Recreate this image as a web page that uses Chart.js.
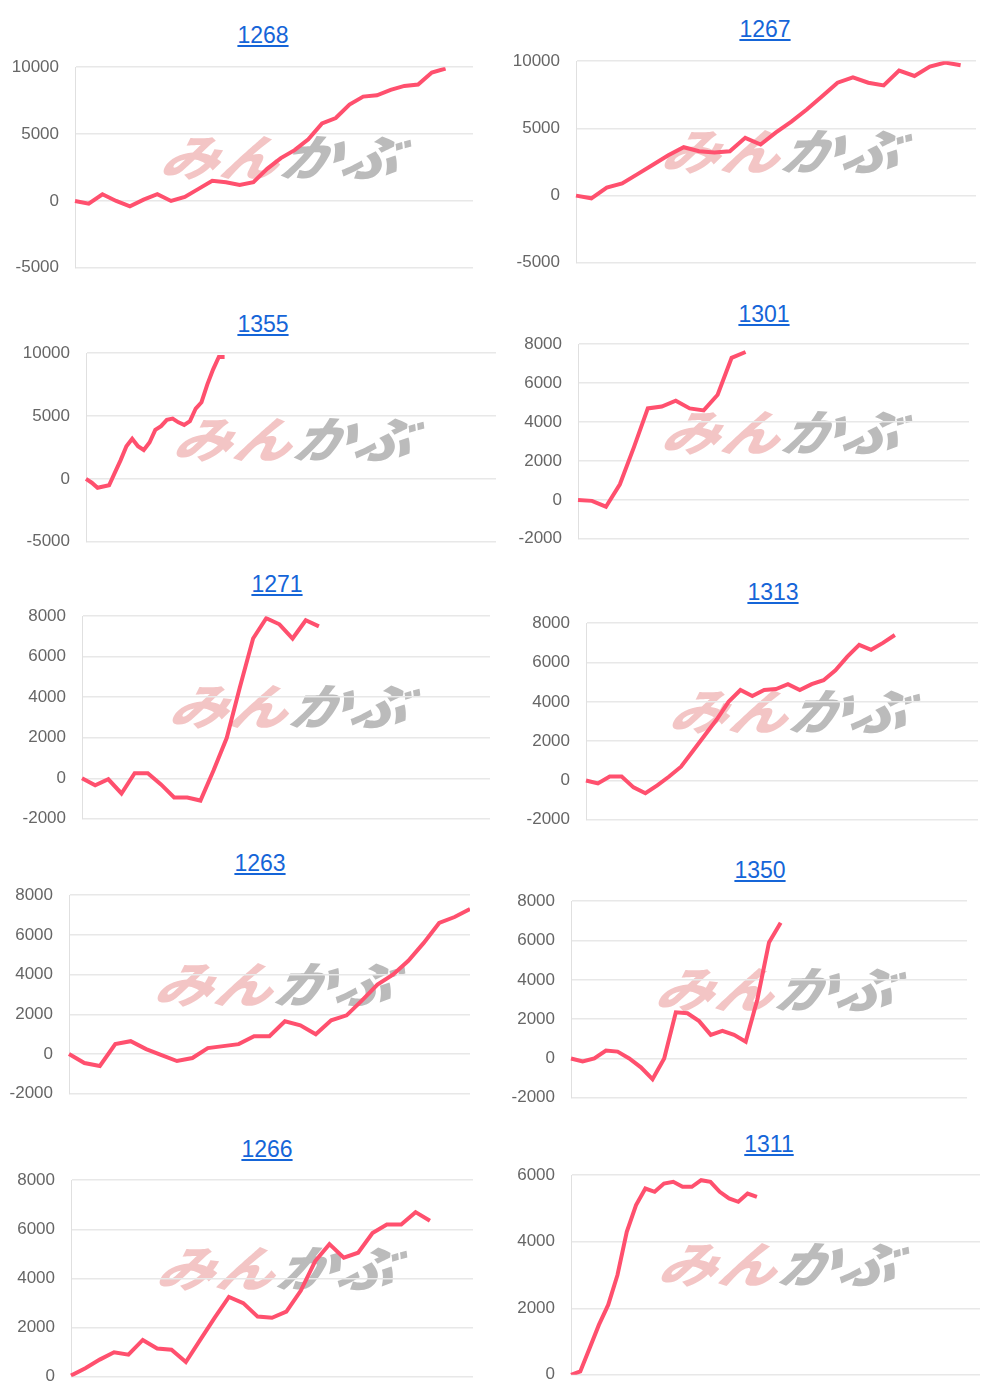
<!DOCTYPE html>
<html>
<head>
<meta charset="utf-8">
<script src="https://cdn.jsdelivr.net/npm/chart.js@4"></script>
<style>
  body { margin: 0; background: #fff; font-family: Arial, "Liberation Sans", sans-serif; }
  #page { position: relative; width: 1000px; height: 1400px; }
  .ttl { position: absolute; width: 200px; text-align: center; font-size: 23px; color: #1565d8; text-decoration: underline; }
  .box { position: absolute; }
  .wm { position: absolute; font-family: "Noto Sans CJK JP"; font-weight: 900; font-style: italic; font-size: 58px; letter-spacing: 2px; line-height: 1; transform: skewX(-14deg) scaleY(0.85); pointer-events: none; white-space: nowrap; }
  .wm .a { color: rgba(225, 110, 110, 0.4); }
  .wm .b { color: rgba(120, 120, 120, 0.5); }
</style>
</head>
<body>
<div id="page"></div>
<script>
// values
var v1268 = [0, -200, 500, 0, -400, 100, 500, 0, 300, 900, 1500, 1400, 1200, 1400, 2400, 3200, 3800, 4600, 5800, 6200, 7200, 7800, 7900, 8300, 8600, 8700, 9600, 9900];
var v1267 = [0, -200, 600, 900, 1600, 2300, 3000, 3600, 3300, 3200, 3300, 4300, 3800, 4700, 5500, 6400, 7400, 8400, 8800, 8400, 8200, 9300, 8900, 9600, 9900, 9700];
var v1355 = [0, -300, -700, -600, -500, 500, 1500, 2600, 3200, 2600, 2300, 2900, 3900, 4200, 4700, 4800, 4500, 4300, 4600, 5600, 6100, 7500, 8700, 9700, 9700];
var v1301 = [0, -50, -350, 800, 2700, 4700, 4800, 5100, 4700, 4600, 5400, 7300, 7600];
var v1271 = [0, -350, -50, -750, 250, 250, -300, -950, -950, -1100, 400, 2000, 4500, 6900, 7900, 7600, 6900, 7800, 7500];
var v1313 = [0, -150, 200, 200, -350, -650, -250, 200, 700, 1500, 2300, 3100, 4000, 4600, 4300, 4600, 4650, 4900, 4600, 4900, 5100, 5600, 6300, 6900, 6650, 7000, 7400];
var v1263 = [0, -450, -600, 500, 650, 250, -50, -350, -200, 300, 400, 500, 900, 900, 1650, 1450, 1000, 1700, 1950, 2700, 3500, 4000, 4700, 5600, 6600, 6900, 7300];
var v1350 = [0, -150, 0, 400, 350, 0, -450, -1050, 0, 2350, 2300, 1900, 1200, 1400, 1200, 850, 3000, 5900, 6900];
var v1266 = [50, 350, 700, 1000, 900, 1500, 1150, 1100, 600, 1500, 2400, 3250, 3000, 2450, 2400, 2650, 3500, 4700, 5400, 4850, 5050, 5850, 6200, 6200, 6700, 6350];
var v1311 = [0, 100, 800, 1500, 2100, 3000, 4300, 5100, 5600, 5500, 5750, 5800, 5650, 5650, 5850, 5800, 5500, 5300, 5200, 5450, 5350];

// name, data, slot count, y min, y max, step
var panels = [
  ['1268', v1268, 30, -5000, 10000, 5000],
  ['1267', v1267, 27, -5000, 10000, 5000],
  ['1355', v1355, 72, -5000, 10000, 5000],
  ['1301', v1301, 29, -2000, 8000, 2000],
  ['1271', v1271, 32, -2000, 8000, 2000],
  ['1313', v1313, 34, -2000, 8000, 2000],
  ['1263', v1263, 27, -2000, 8000, 2000],
  ['1350', v1350, 35, -2000, 8000, 2000],
  ['1266', v1266, 29, 0, 8000, 2000],
  ['1311', v1311, 45, 0, 6000, 2000]
];
// title centre x/y, plot left, top, right, bottom
var boxes = [
  [263, 36, 75, 64, 473, 269],
  [765, 30, 576, 58, 976, 264],
  [263, 325, 86, 350, 496, 543],
  [764, 315, 578, 341, 969, 540],
  [277, 585, 82, 613, 490, 820],
  [773, 593, 586, 620, 978, 821],
  [260, 864, 69, 892, 470, 1095],
  [760, 871, 571, 898, 967, 1099],
  [267, 1150, 71, 1177, 473, 1378],
  [769, 1145, 571, 1172, 980, 1376]
];

Chart.defaults.font.family = 'Arial, "Liberation Sans", sans-serif';
Chart.defaults.font.size = 17;
Chart.defaults.color = '#666';

var AXW = 75;
var page = document.getElementById('page');
panels.forEach(function(p, i) {
  var b = boxes[i];
  var t = document.createElement('div');
  t.className = 'ttl';
  t.textContent = p[0];
  t.style.left = (b[0] - 100) + 'px';
  t.style.top = (b[1] - 14) + 'px';
  page.appendChild(t);

  var wm = document.createElement('div');
  wm.className = 'wm';
  wm.innerHTML = '<span class="a">みん</span><span class="b">かぶ</span>';
  wm.style.left = (b[2] + (b[4] - b[2]) * 0.22) + 'px';
  wm.style.top = (b[3] + (b[5] - b[3]) * 0.3) + 'px';
  page.appendChild(wm);

  var left = b[2] - AXW;
  var box = document.createElement('div');
  box.className = 'box';
  box.style.left = left + 'px';
  box.style.top = (b[3] - 23) + 'px';
  box.style.width = (b[4] - left) + 'px';
  box.style.height = (b[5] - b[3] + 48) + 'px';
  var cv = document.createElement('canvas');
  box.appendChild(cv);
  page.appendChild(box);

  var labels = [];
  for (var k = 0; k < p[2]; k++) labels.push('');

  new Chart(cv, {
    type: 'line',
    data: {
      labels: labels,
      datasets: [{
        data: p[1],
        borderColor: 'rgb(255, 80, 110)',
        borderWidth: 4,
        pointRadius: 0,
        fill: false,
        tension: 0
      }]
    },
    options: {
      responsive: true,
      maintainAspectRatio: false,
      animation: false,
      layout: { padding: 0 },
      plugins: { legend: { display: false }, tooltip: { enabled: false } },
      scales: {
        x: {
          offset: false,
          ticks: { display: false },
          grid: { display: false, drawTicks: false },
          border: { display: false }
        },
        y: {
          min: p[3], max: p[4],
          afterFit: function(s) { s.width = AXW; },
          ticks: { stepSize: p[5], padding: 16, callback: function(v) { return String(v); } },
          grid: { color: '#e8e8e8', drawTicks: false, lineWidth: 1.5 },
          border: { color: '#e0e0e0' }
        }
      }
    }
  });
});
</script>
</body>
</html>
